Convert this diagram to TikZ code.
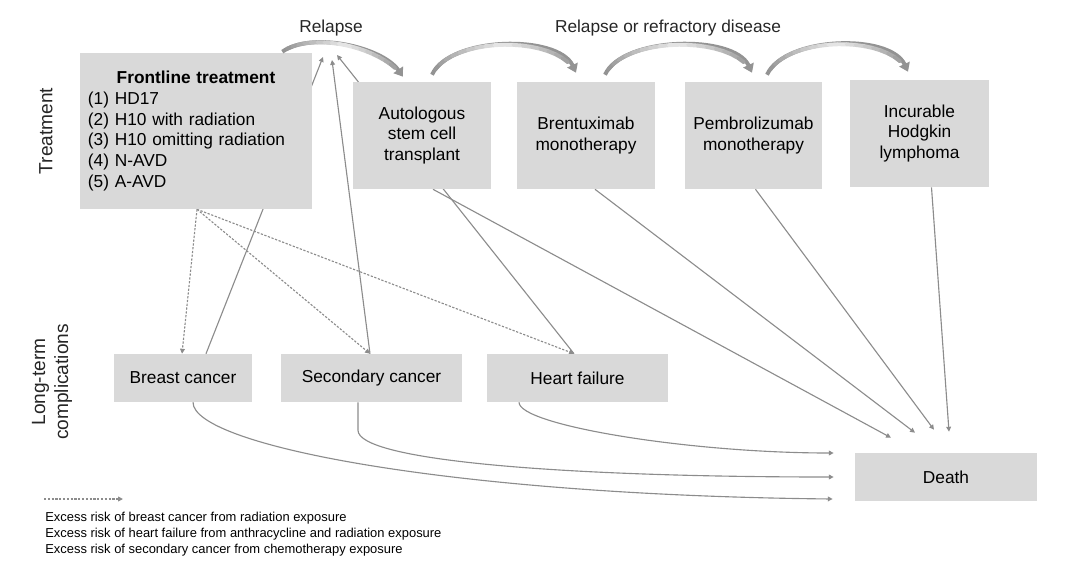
\documentclass[tikz,border=0pt]{standalone}
\usepackage{fontspec}
\setmainfont{Liberation Sans}
\usetikzlibrary{arrows.meta,calc}
\pgfdeclarelayer{background}
\pgfsetlayers{background,main}
\definecolor{boxgray}{HTML}{D9D9D9}
\definecolor{linegray}{HTML}{8C8C8C}
\definecolor{arcgray}{HTML}{939393}
\definecolor{arclight}{HTML}{E8E8E8}

\begin{document}
\begin{tikzpicture}
[x=0.025cm, y=-0.025cm,
 boxDecorate/.style={rectangle, fill=boxgray, inner sep=0pt, align=center, font=\fontsize{12.3}{14.7}\selectfont},
 sideLabel/.style={rotate=90, align=center, text=black!85, font=\fontsize{13.6}{16.3}\selectfont},
 topLabel/.style={text=black!85, font=\fontsize{12.3}{14.7}\selectfont},
 lineDecorate/.style={draw=linegray, line width=0.8pt, -{Triangle[length=3.5pt,width=3.4pt]}},
 riskDecorate/.style={lineDecorate, dash pattern=on 1.6pt off 1.1pt},
 relapseDecorate/.style={draw=arcgray, line width=2.8pt, -{Triangle[length=6pt,width=8pt]}},
 relapseShine/.style={line width=2.8pt, line cap=round}]
\useasboundingbox (0,0) rectangle (1080,567);
%% treatment lines
\node[boxDecorate, minimum width=5.8cm, minimum height=3.9cm, text width=5.4cm, align=left] (front) at (196,131)
  {\makebox[5.4cm]{\bfseries Frontline treatment}\\(1) HD17\\(2) H10 with radiation\\(3) H10 omitting radiation\\(4) N-AVD\\(5) A-AVD};
\node[boxDecorate, minimum width=3.45cm, minimum height=2.675cm] (asct) at (422,135.5) {Autologous\\stem cell\\transplant};
\node[boxDecorate, minimum width=3.45cm, minimum height=2.675cm] (brent) at (586,135.5) {Brentuximab\\monotherapy};
\node[boxDecorate, minimum width=3.425cm, minimum height=2.675cm] (pembro) at (753.5,135.5) {Pembrolizumab\\monotherapy};
\node[boxDecorate, minimum width=3.475cm, minimum height=2.675cm] (incur) at (919.5,133.5) {Incurable\\Hodgkin\\lymphoma};
%% long-term complications
\node[boxDecorate, minimum width=3.45cm, minimum height=1.2cm] (breast) at (183,378) {Breast cancer};
\node[boxDecorate, minimum width=4.525cm, minimum height=1.2cm] (second) at (371.5,378) {Secondary cancer};
\node[boxDecorate, minimum width=4.525cm, minimum height=1.2cm] (heart) at (577.5,378) {Heart failure};
\node[boxDecorate, minimum width=4.55cm, minimum height=1.2cm] (death) at (946,477) {Death};
%% labels
\node[sideLabel] (treatLabel) at (46,131) {Treatment};
\node[sideLabel] (compLabel) at (52,382) {Long-term\\complications};
\node[topLabel] (relapseLabel) at (331,28) {Relapse};
\node[topLabel] (refractLabel) at (668,28) {Relapse or refractory disease};
%% legend
\coordinate (legStart) at (44,499);
\coordinate (legEnd) at (123,499);
\node[anchor=west, align=left, inner sep=0pt, font=\fontsize{9.2}{11.4}\selectfont] (legText) at (45,534)
  {Excess risk of breast cancer from radiation exposure\\Excess risk of heart failure from anthracycline and radiation exposure\\Excess risk of secondary cancer from chemotherapy exposure};
%% relapse points
\coordinate (relapseA) at (323,57);
\coordinate (relapseB) at (332,60);
\coordinate (relapseC) at (337,55);

\begin{pgfonlayer}{background}
%% complications back to relapse
\draw[lineDecorate] ($(breast.north)+(23,0)$) -- (relapseA);
\draw[lineDecorate] ($(second.north)+(-1.5,0)$) -- (relapseB);
\draw[lineDecorate] ($(heart.north)+(-3.5,0)$) -- (relapseC);
%% excess risk from frontline treatment
\foreach \target/\dx in {breast/-1, second/-1.5, heart/-3.5} {
  \draw[riskDecorate] ($(front.south)+(1,0)$) -- ($(\target.north)+(\dx,0)$);
}
\draw[riskDecorate] (legStart) -- (legEnd);
%% treatments to death
\foreach \source/\sx/\dx/\dy in {asct/11/-55/-15, brent/9/-31/-20, pembro/2/-12/-23, incur/12/3/-21} {
  \draw[lineDecorate] ($(\source.south)+(\sx,0)$) -- ($(death.north)+(\dx,\dy)$);
}
%% complications to death
\draw[lineDecorate] ($(heart.south)+(-58.5,0)$) .. controls ($(heart.south)+(-58.5,23)$) and ($(death.west)+(-165,-24)$) .. ($(death.west)+(-21,-24)$);
\draw[lineDecorate] ($(second.south)+(-13.5,0)$) -- ($(second.south)+(-13.5,28)$) .. controls ($(second.south)+(-13.5,58)$) and ($(death.west)+(-295,0)$) .. ($(death.west)+(-21,0)$);
\draw[lineDecorate] ($(breast.south)+(10,0)$) .. controls ($(breast.south)+(10,43)$) and ($(death.west)+(-405,18)$) .. ($(death.west)+(-22,22)$);
\end{pgfonlayer}

%% relapse or refractory disease
\coordinate (frontOut) at ($(front.north east)+(-30,-1)$);
\coordinate (asctIn) at ($(asct.north)+(-19,-5)$);
\coordinate (asctOut) at ($(asct.north)+(10,-7)$);
\coordinate (brentIn) at ($(brent.north)+(-10,-9)$);
\coordinate (brentOut) at ($(brent.north)+(19,-7)$);
\coordinate (pembroIn) at ($(pembro.north)+(-1.5,-9)$);
\coordinate (pembroOut) at ($(pembro.north)+(13.5,-7)$);
\coordinate (incurIn) at ($(incur.north)+(-11.5,-8)$);
\foreach \startnode/\endnode/\ax/\ay/\bx/\by in {frontOut/asctIn/29.7/-20.8/-20.8/-29.7,
    asctOut/brentIn/18/-38.6/-18/-38.6, brentOut/pembroIn/18/-38.6/-18/-38.6, pembroOut/incurIn/18/-38.6/-18/-38.6} {
  \draw[relapseDecorate] (\startnode) .. controls ($(\startnode)+(\ax,\ay)$) and ($(\endnode)+(\bx,\by)$) .. (\endnode);
  %% lighter middle of the arc
  \foreach \k in {0,...,20} {
    \path (\startnode) .. controls ($(\startnode)+(\ax,\ay)$) and ($(\endnode)+(\bx,\by)$) .. (\endnode)
      coordinate[pos=\k/20] (\startnode-\k);
  }
  \foreach \k [evaluate=\k as \knext using int(\k+1), evaluate=\k as \pct using int(100*abs(\k+0.5-10)/9)] in {1,...,17} {
    \draw[relapseShine, draw=arcgray!\pct!arclight] (\startnode-\k) -- (\startnode-\knext);
  }
}
\end{tikzpicture}
\end{document}
